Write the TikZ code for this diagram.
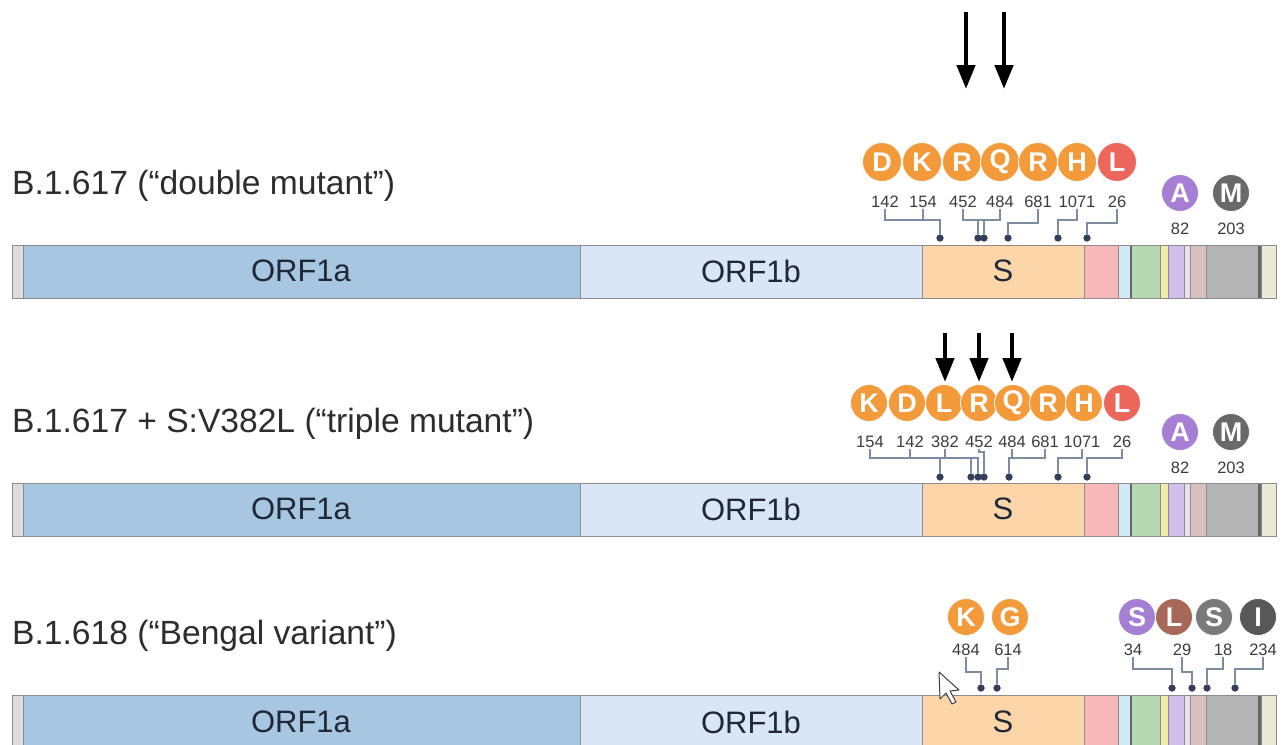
\documentclass[tikz,border=0pt]{standalone}
\usepackage{fontspec}
\setmainfont{Liberation Sans}
\usetikzlibrary{arrows.meta}
\definecolor{capC}{RGB}{220,220,220}
\definecolor{oneA}{RGB}{167,198,226}
\definecolor{oneB}{RGB}{217,230,246}
\definecolor{spikeC}{RGB}{252,213,168}
\definecolor{threeA}{RGB}{247,185,183}
\definecolor{envC}{RGB}{211,234,244}
\definecolor{memC}{RGB}{184,216,180}
\definecolor{sixC}{RGB}{240,235,170}
\definecolor{sevAC}{RGB}{210,192,236}
\definecolor{sevBC}{RGB}{230,224,234}
\definecolor{eightC}{RGB}{216,192,190}
\definecolor{nucC}{RGB}{181,181,181}
\definecolor{tenC}{RGB}{233,235,213}
\definecolor{orgC}{RGB}{243,154,58}
\definecolor{redC}{RGB}{236,102,92}
\definecolor{purC}{RGB}{165,127,212}
\definecolor{gryM}{RGB}{105,105,105}
\definecolor{brnC}{RGB}{168,104,88}
\definecolor{gryS}{RGB}{122,122,122}
\definecolor{gryI}{RGB}{88,88,88}
\definecolor{connC}{RGB}{125,140,162}
\definecolor{dotC}{RGB}{52,62,88}
\definecolor{txtC}{RGB}{45,45,45}
\definecolor{geneT}{RGB}{32,40,55}
\definecolor{numC}{RGB}{60,60,60}
\newcommand\genomebar[1]{%
  \foreach \a/\b/\c in {12/23/capC,23/580/oneA,580/922/oneB,922/1084/spikeC,1084/1118/threeA,1118/1131/envC,1131/1160/memC,1160/1168/sixC,1168/1184/sevAC,1184/1190/sevBC,1190/1206/eightC,1206/1258/nucC,1258/1261/gryM,1261/1276/tenC}
    {\filldraw[segline, fill=\c] (\a,#1) rectangle (\b,#1+53);}
  \draw[segline, line width=1.6pt, draw=black!60] (1131,#1) -- (1131,#1+53);
  \draw[segline, line width=1.6pt, draw=black!60] (1259,#1) -- (1259,#1+53);
  \draw[segline] (12,#1) rectangle (1276,#1+53);
}
\tikzset{
  segline/.style={draw=black!45, line width=0.9pt},
  title/.style={anchor=base west, inner sep=0pt, text=txtC, font=\fontsize{33.6}{38}\selectfont},
  genelbl/.style={inner sep=0pt, text=geneT, font=\fontsize{31}{36}\selectfont},
  mut/.style={circle, minimum size=39pt, inner sep=0pt, draw=white, line width=0.8pt, text=white, font=\fontsize{27}{29}\selectfont\bfseries},
  mutsm/.style={mut, minimum size=37pt},
  num/.style={inner sep=1pt, text=numC, font=\fontsize{16.5}{18}\selectfont},
  conn/.style={draw=connC, line width=1.1pt},
  dot/.style={circle, fill=dotC, minimum size=7pt, inner sep=0pt},
  bigarrow/.style={line width=4.5pt, draw=black, -{Triangle[length=24pt,width=18pt]}},
}
\begin{document}
\begin{tikzpicture}[x=1pt,y=-1pt]
\useasboundingbox (0,0) rectangle (1284,744);
\clip (0,0) rectangle (1284,744);
\fill[white] (0,0) rectangle (1284,744);

% ---------------- Row 1 ----------------
\coordinate (a1s) at (966,12); \coordinate (a1e) at (966,89);
\coordinate (a2s) at (1004,12); \coordinate (a2e) at (1004,89);
\draw[bigarrow] (a1s) -- (a1e);
\draw[bigarrow] (a2s) -- (a2e);

\node[title] (t1) at (12,194) {B.1.617 (“double mutant”)};
\genomebar{245}
\node[genelbl] (g1a) at (301,271) {ORF1a};
\node[genelbl] (g1b) at (751,271) {ORF1b};
\node[genelbl] (g1s) at (1003,271) {S};

\node[mut, fill=orgC] (c1-1) at (882,162) {D};
\node[mut, fill=orgC] (c1-2) at (922,162) {K};
\node[mut, fill=orgC] (c1-3) at (962,162) {R};
\node[mut, fill=orgC] (c1-4) at (1000,162) {Q};
\node[mut, fill=orgC] (c1-5) at (1038,162) {R};
\node[mut, fill=orgC] (c1-6) at (1077,162) {H};
\node[mut, fill=redC] (c1-7) at (1117,162) {L};
\node[mutsm, fill=purC] (c1-8) at (1180,193) {A};
\node[mutsm, fill=gryM] (c1-9) at (1231,193) {M};

\node[num] (n1-1) at (885,202) {142};
\node[num] (n1-2) at (923,202) {154};
\node[num] (n1-3) at (963,202) {452};
\node[num] (n1-4) at (1000,202) {484};
\node[num] (n1-5) at (1038,202) {681};
\node[num] (n1-6) at (1077,202) {1071};
\node[num] (n1-7) at (1117,202) {26};
\node[num] (n1-8) at (1180,229) {82};
\node[num] (n1-9) at (1231,229) {203};

\coordinate (L1) at (0,220);
\coordinate (L1b) at (0,223);
\node[dot] (d1-1) at (940,238) {};
\node[dot] (d1-2) at (978,238) {};
\node[dot] (d1-3) at (984,238) {};
\node[dot] (d1-4) at (1008,238) {};
\node[dot] (d1-5) at (1058,238) {};
\node[dot] (d1-6) at (1087,238) {};
\draw[conn] (n1-1.south) |- (d1-1 |- L1) -- (d1-1);
\draw[conn] (n1-2.south) -- (n1-2.south |- L1);
\draw[conn] (n1-3.south) |- (n1-4.south |- L1) -- (n1-4.south);
\draw[conn] (d1-2 |- L1) -- (d1-2);
\draw[conn] (d1-3 |- L1) -- (d1-3);
\draw[conn] (n1-5.south) |- (d1-4 |- L1b) -- (d1-4);
\draw[conn] (n1-6.south) |- (d1-5 |- L1) -- (d1-5);
\draw[conn] (n1-7.south) |- (d1-6 |- L1b) -- (d1-6);
\foreach \k in {1,...,6} {\node[dot] at (d1-\k) {};}

% ---------------- Row 2 ----------------
\coordinate (a3s) at (945,333); \coordinate (a3e) at (945,382);
\coordinate (a4s) at (979,333); \coordinate (a4e) at (979,382);
\coordinate (a5s) at (1012,333); \coordinate (a5e) at (1012,382);
\draw[bigarrow] (a3s) -- (a3e);
\draw[bigarrow] (a4s) -- (a4e);
\draw[bigarrow] (a5s) -- (a5e);

\node[title] (t2) at (12,432) {B.1.617 + S:V382L (“triple mutant”)};
\genomebar{483}
\node[genelbl] (g2a) at (301,509) {ORF1a};
\node[genelbl] (g2b) at (751,509) {ORF1b};
\node[genelbl] (g2s) at (1003,509) {S};

\node[mutsm, fill=orgC] (c2-1) at (869,403) {K};
\node[mutsm, fill=orgC] (c2-2) at (907,403) {D};
\node[mutsm, fill=orgC] (c2-3) at (944,403) {L};
\node[mutsm, fill=orgC] (c2-4) at (979,403) {R};
\node[mutsm, fill=orgC] (c2-5) at (1013,403) {Q};
\node[mutsm, fill=orgC] (c2-6) at (1048,403) {R};
\node[mutsm, fill=orgC] (c2-7) at (1084,403) {H};
\node[mutsm, fill=redC] (c2-8) at (1122,403) {L};
\node[mutsm, fill=purC] (c2-9) at (1180,432) {A};
\node[mutsm, fill=gryM] (c2-10) at (1231,432) {M};

\node[num] (n2-1) at (870,442) {154};
\node[num] (n2-2) at (910,442) {142};
\node[num] (n2-3) at (945,442) {382};
\node[num] (n2-4) at (979,442) {452};
\node[num] (n2-5) at (1012,442) {484};
\node[num] (n2-6) at (1045,442) {681};
\node[num] (n2-7) at (1082,442) {1071};
\node[num] (n2-8) at (1122,442) {26};
\node[num] (n2-9) at (1180,468) {82};
\node[num] (n2-10) at (1231,468) {203};

\coordinate (L2) at (0,458);
\coordinate (L2b) at (0,452);
\node[dot] (d2-1) at (940,477) {};
\node[dot] (d2-2) at (971,477) {};
\node[dot] (d2-3) at (978,477) {};
\node[dot] (d2-4) at (984,477) {};
\node[dot] (d2-5) at (1009,477) {};
\node[dot] (d2-6) at (1058,477) {};
\node[dot] (d2-7) at (1087,477) {};
\draw[conn] (n2-1.south) |- (d2-3 |- L2) -- (d2-3);
\draw[conn] (n2-2.south) -- (n2-2.south |- L2);
\draw[conn] (n2-3.south) -- (n2-3.south |- L2);
\draw[conn] (d2-1 |- L2) -- (d2-1);
\draw[conn] (d2-2 |- L2) -- (d2-2);
\draw[conn] (n2-4.south) -- (n2-4.south |- L2b) -| (d2-4);
\draw[conn] (n2-6.south) |- (d2-5 |- L2) -- (d2-5);
\draw[conn] (n2-5.south) -- (n2-5.south |- L2);
\draw[conn] (n2-7.south) |- (d2-6 |- L2) -- (d2-6);
\draw[conn] (n2-8.south) |- (d2-7 |- L2) -- (d2-7);
\foreach \k in {1,...,7} {\node[dot] at (d2-\k) {};}

% ---------------- Row 3 ----------------
\node[title] (t3) at (12,644) {B.1.618 (“Bengal variant”)};
\genomebar{695}
\node[genelbl] (g3a) at (301,722) {ORF1a};
\node[genelbl] (g3b) at (751,722) {ORF1b};
\node[genelbl] (g3s) at (1003,722) {S};

\node[mutsm, fill=orgC] (c3-1) at (966,617) {K};
\node[mutsm, fill=orgC] (c3-2) at (1010,617) {G};
\node[mutsm, fill=purC] (c3-3) at (1137,617) {S};
\node[mutsm, fill=brnC] (c3-4) at (1174,617) {L};
\node[mutsm, fill=gryS] (c3-5) at (1214,617) {S};
\node[mutsm, fill=gryI] (c3-6) at (1258,617) {I};

\node[num] (n3-1) at (966,650) {484};
\node[num] (n3-2) at (1008,650) {614};
\node[num] (n3-3) at (1133,650) {34};
\node[num] (n3-4) at (1182,650) {29};
\node[num] (n3-5) at (1223,650) {18};
\node[num] (n3-6) at (1263,650) {234};

\coordinate (L3) at (0,672);
\coordinate (L3b) at (0,669);
\node[dot] (d3-1) at (981,688) {};
\node[dot] (d3-2) at (997,688) {};
\node[dot] (d3-3) at (1172,688) {};
\node[dot] (d3-4) at (1192,688) {};
\node[dot] (d3-5) at (1207,688) {};
\node[dot] (d3-6) at (1235,688) {};
\draw[conn] (n3-1.south) |- (d3-1 |- L3) -- (d3-1);
\draw[conn] (n3-2.south) |- (d3-2 |- L3b) -- (d3-2);
\draw[conn] (n3-3.south) |- (d3-3 |- L3b) -- (d3-3);
\draw[conn] (n3-4.south) |- (d3-4 |- L3) -- (d3-4);
\draw[conn] (n3-5.south) |- (d3-5 |- L3b) -- (d3-5);
\draw[conn] (n3-6.south) |- (d3-6 |- L3b) -- (d3-6);
\foreach \k in {1,...,6} {\node[dot] at (d3-\k) {};}

% mouse pointer
\draw[fill=white, draw=black!75, line width=1pt, line join=round]
  (939,672) -- ++(1,27) -- ++(6,-6) -- ++(6,11) -- ++(4,-2) -- ++(-6,-11) -- ++(9,-1) -- cycle;
\end{tikzpicture}
\end{document}
